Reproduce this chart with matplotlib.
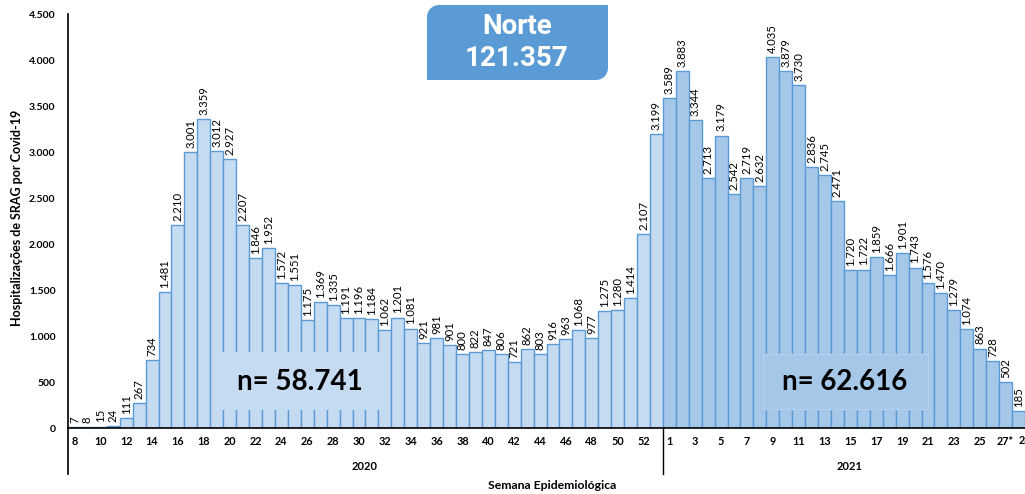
import matplotlib
matplotlib.use("Agg")
import matplotlib.pyplot as plt
from matplotlib.lines import Line2D
from matplotlib.patches import Rectangle, PathPatch
from matplotlib.path import Path
import numpy as np

# ---------------- data ----------------
weeks_2020 = list(range(8, 54))
values_2020 = [7, 8, 15, 24, 111, 267, 734, 1481, 2210, 3001, 3359, 3012, 2927,
               2207, 1846, 1952, 1572, 1551, 1175, 1369, 1335, 1191, 1196, 1184,
               1062, 1201, 1081, 921, 981, 901, 800, 822, 847, 806, 721, 862,
               803, 916, 963, 1068, 977, 1275, 1280, 1414, 2107, 3199]
weeks_2021 = list(range(1, 29))
values_2021 = [3589, 3883, 3344, 2713, 3179, 2542, 2719, 2632, 4035, 3879, 3730,
               2836, 2745, 2471, 1720, 1722, 1859, 1666, 1901, 1743, 1576, 1470,
               1279, 1074, 863, 728, 502, 185]
yticks = [0, 500, 1000, 1500, 2000, 2500, 3000, 3500, 4000, 4500]
title_lines = ["Norte", "121.357"]
n_2020 = "n= 58.741"
n_2021 = "n= 62.616"
year_labels = ["2020", "2021"]
xlabel = "Semana Epidemiológica"
ylabel = "Hospitalizações de SRAG por Covid-19"

def fmt(v):
    return f"{v:,}".replace(",", ".")

W, H = 1025, 494
fig = plt.figure(figsize=(W / 100, H / 100), dpi=100)
fig.patch.set_facecolor("white")

def fx(x):
    return x / W

def fy(y):
    return 1 - y / H

ax_left, ax_right, ax_top, ax_bot = 68, 1025, 14, 428
ax = fig.add_axes([fx(ax_left), fy(ax_bot), fx(ax_right - ax_left), fy(ax_top) - fy(ax_bot)])

c2020 = "#c5dbf1"
c2021 = "#a5c8e9"
edge = "#5b9bd5"

n1 = len(values_2020)
n2 = len(values_2021)
x1 = np.arange(n1)
x2 = np.arange(n1, n1 + n2)
ax.bar(x1, values_2020, width=1.0, color=c2020, edgecolor=edge, linewidth=1.0, zorder=2)
ax.bar(x2, values_2021, width=1.0, color=c2021, edgecolor=edge, linewidth=1.0, zorder=2)

for xs, vs in ((x1, values_2020), (x2, values_2021)):
    for x, v in zip(xs, vs):
        ax.annotate(fmt(v), (x, v), xytext=(0, 3), textcoords="offset points",
                    rotation=90, ha="center", va="bottom", fontsize=8.2,
                    family="Lato", color="black", zorder=5)

ax.set_xlim(-0.5, n1 + n2 - 0.5)
ax.set_ylim(0, 4500)
ax.set_yticks(yticks)
ax.set_yticklabels([fmt(v) for v in yticks], fontsize=7.5, fontweight="bold", family="Lato")
ax.tick_params(axis="y", length=0, pad=9)

# x tick labels
tick_pos = []
tick_lab = []
all_weeks = [str(w) for w in weeks_2020] + [str(w) for w in weeks_2021]
all_weeks[n1 + 26] = "27*"
for i, lab in enumerate(all_weeks):
    if i % 2 == 0:
        tick_pos.append(i)
        tick_lab.append(lab)
ax.set_xticks(tick_pos)
ax.set_xticklabels(tick_lab, fontsize=7.8, fontweight="bold", family="Lato")
ax.tick_params(axis="x", length=0, pad=6)
# partially visible label at the right edge (cut in the reference too)
ax.text(n1 + n2 - 1, -140, all_weeks[-1], ha="left", va="center", fontsize=7.8,
        fontweight="bold", family="Lato", clip_on=False)

for s in ["top", "right"]:
    ax.spines[s].set_visible(False)
ax.spines["left"].set_linewidth(1.2)
ax.spines["bottom"].set_linewidth(1.2)

# extension lines below axis
fig.add_artist(Line2D([fx(68), fx(68)], [fy(428), fy(474)], color="black", lw=1.2, transform=fig.transFigure))
fig.canvas.draw()
xdiv_fig = fig.transFigure.inverted().transform(ax.transData.transform((n1 - 0.5, 0)))[0]
fig.add_artist(Line2D([xdiv_fig, xdiv_fig], [fy(428), fy(474)], color="black", lw=1.0, transform=fig.transFigure))

fig.text(fx(365), fy(466), year_labels[0], ha="center", va="center", fontsize=8, fontweight="bold", family="Lato")
fig.text(fx(850), fy(466), year_labels[1], ha="center", va="center", fontsize=8, fontweight="bold", family="Lato")
fig.text(fx(552), fy(485), xlabel, ha="center", va="center", fontsize=8.8, fontweight="bold", family="Lato")
fig.text(fx(17), fy(218), ylabel, ha="center", va="center", rotation=90, fontsize=9, fontweight="bold", family="Lato")

# n boxes
fig.add_artist(Rectangle((fx(221), fy(410)), fx(380 - 221), fy(352) - fy(410), facecolor=c2020,
                         edgecolor="none", transform=fig.transFigure, zorder=3))
fig.text(fx(300), fy(382), n_2020, ha="center", va="center", fontsize=20, fontweight="bold",
         family="Lato", zorder=4)
fig.add_artist(Rectangle((fx(763), fy(409)), fx(928 - 763), fy(354) - fy(409), facecolor=c2021,
                         edgecolor="#b3d1ee", lw=1.0, transform=fig.transFigure, zorder=3))
fig.text(fx(845), fy(382), n_2021, ha="center", va="center", fontsize=20, fontweight="bold",
         family="Lato", zorder=4)

# title box: rounded top-left and bottom-right corners
bx0, bx1, by0, by1, r = 427, 608, 5, 80, 12
k = 0.55 * r
pts = [
    (bx0 + r, by0), (bx1, by0), (bx1, by1 - r),
    (bx1, by1 - r + k), (bx1 - r + k, by1), (bx1 - r, by1),
    (bx0, by1), (bx0, by0 + r),
    (bx0, by0 + r - k), (bx0 + r - k, by0), (bx0 + r, by0),
    (bx0 + r, by0),
]
codes = [Path.MOVETO, Path.LINETO, Path.LINETO,
         Path.CURVE4, Path.CURVE4, Path.CURVE4,
         Path.LINETO, Path.LINETO,
         Path.CURVE4, Path.CURVE4, Path.CURVE4,
         Path.CLOSEPOLY]
path = Path([(fx(px), fy(py)) for px, py in pts], codes)
fig.add_artist(PathPatch(path, facecolor="#5b9bd5", edgecolor="none", transform=fig.transFigure, zorder=3))
fig.text(fx(517), fy(26), title_lines[0], ha="center", va="center", fontsize=20, fontweight="bold",
         family="Roboto", color="white", zorder=4)
fig.text(fx(517), fy(58), title_lines[1], ha="center", va="center", fontsize=20, fontweight="bold",
         family="Roboto", color="white", zorder=4)

fig.savefig("out.png", dpi=100)
